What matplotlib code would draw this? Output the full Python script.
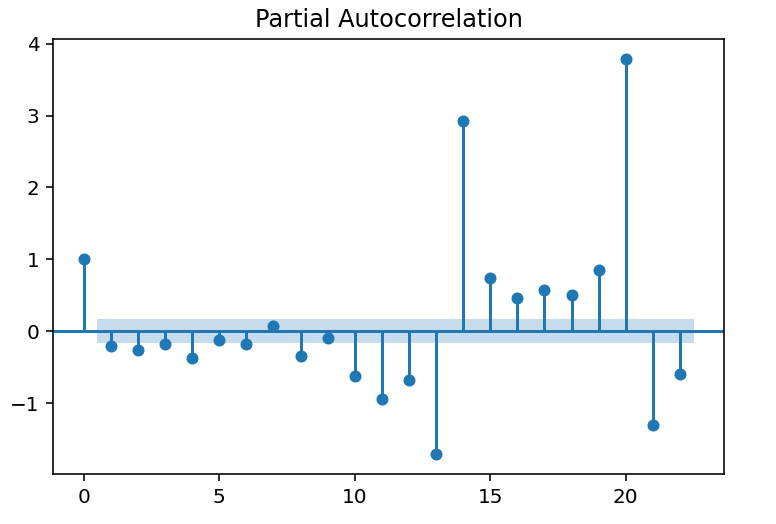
import numpy as np
import matplotlib
matplotlib.use("Agg")
import matplotlib.pyplot as plt

lags = list(range(23))
pacf_values = [1.0, -0.21, -0.26, -0.17, -0.375, -0.12, -0.175, 0.075, -0.35,
               -0.09, -0.62, -0.935, -0.68, -1.71, 2.93, 0.74, 0.46, 0.58,
               0.51, 0.85, 3.79, -1.31, -0.60]
conf_half = 0.165

dpi = 144
fig = plt.figure(figsize=(776 / dpi, 524 / dpi), dpi=dpi)
ax = fig.add_axes([53.3 / 776, 50 / 524, 670.7 / 776, 435 / 524])

ax.vlines(lags, [0], pacf_values)
ax.axhline()
ax.plot(lags, pacf_values, marker="o", markersize=5, linestyle="None")

band_x = np.array(lags[1:], dtype=float)
band_x[0] -= 0.5
band_x[-1] += 0.5
ax.fill_between(band_x, -conf_half, conf_half, alpha=0.25, linewidth=0)

ax.set_title("Partial Autocorrelation")
fig.savefig("out.png", dpi=dpi)
